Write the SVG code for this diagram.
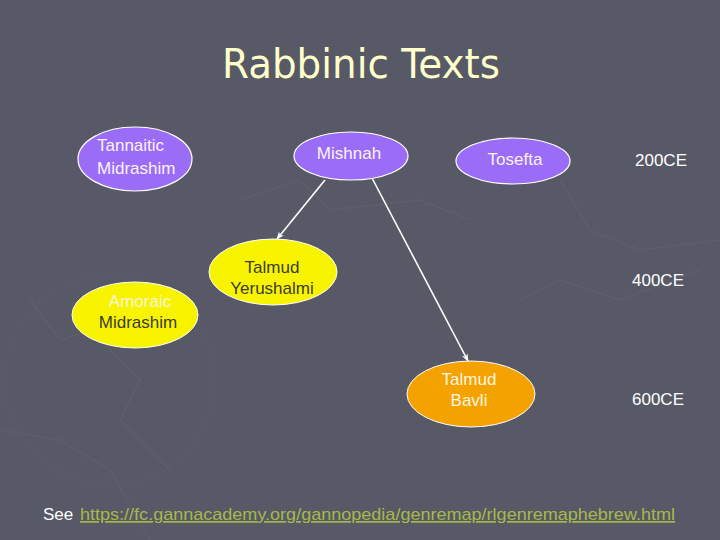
<svg xmlns="http://www.w3.org/2000/svg" width="720" height="540" viewBox="0 0 720 540">
<defs>
<style>
.t{font-family:"Liberation Sans",Arial,sans-serif;font-size:17px}
.purple{fill:#9b6cf6;stroke:#ffffff;stroke-width:1.2}
.yellow{fill:#f8f400;stroke:#ffffff;stroke-width:1}
.orange{fill:#f4a200;stroke:#ffffff;stroke-width:1}
.wt{fill:#fbf2fb}
.dk{fill:#3c3c30}
.yr{fill:#ffffff}
.conn{stroke:#ffffff;stroke-width:1.6;fill:none;marker-end:url(#ah)}
.deco{stroke:#5d5f6b;stroke-width:1.5;fill:none}
</style>
<marker id="ah" viewBox="0 0 10 10" refX="9" refY="5" markerWidth="8" markerHeight="8" orient="auto" markerUnits="userSpaceOnUse">
<path d="M0,1 L10,5 L0,9 L3,5 Z" fill="#ffffff"/>
</marker>
</defs>
<rect width="720" height="540" fill="#575966"/>
<g id="background-decoration">
<circle cx="110" cy="380" r="105" class="deco" stroke-dasharray="1.5 2.5" stroke-width="6"/>
<path class="deco" d="M30,300 L60,340 L90,330 L140,380 L120,420 L170,470"/>
<path class="deco" d="M240,200 L300,180 L330,210 L420,200 L470,220"/>
<path class="deco" d="M520,300 L560,280 L620,300 L700,270"/>
<path class="deco" d="M0,430 L60,440 L110,470 L150,540"/>
<path class="deco" d="M560,180 L590,230 L640,250 L720,240"/>
</g>
<g id="title"><text x="361" y="78" text-anchor="middle" font-family="'DejaVu Sans',Tahoma,sans-serif" font-size="40" fill="#ffffcc" textLength="278" lengthAdjust="spacingAndGlyphs">Rabbinic Texts</text></g>
<g id="tannaitic">
<ellipse class="purple" cx="135" cy="159" rx="57" ry="32"/>
<text class="t wt" x="97" y="151">Tannaitic</text>
<text class="t wt" x="97" y="174">Midrashim</text>
</g>
<g id="mishnah">
<ellipse class="purple" cx="351" cy="156" rx="57" ry="24"/>
<text class="t wt" x="349" y="159" text-anchor="middle">Mishnah</text>
</g>
<g id="tosefta">
<ellipse class="purple" cx="513" cy="161" rx="57" ry="23"/>
<text class="t wt" x="515" y="165" text-anchor="middle">Tosefta</text>
</g>
<g id="yerushalmi">
<ellipse class="yellow" cx="273" cy="272" rx="64" ry="33"/>
<text class="t dk" x="272" y="273" text-anchor="middle">Talmud</text>
<text class="t dk" x="272" y="294" text-anchor="middle">Yerushalmi</text>
</g>
<g id="amoraic">
<ellipse class="yellow" cx="135" cy="315" rx="63" ry="33"/>
<text class="t" x="140" y="307" text-anchor="middle" fill="#f6f4d8">Amoraic</text>
<text class="t dk" x="138" y="328" text-anchor="middle">Midrashim</text>
</g>
<g id="bavli">
<ellipse class="orange" cx="471" cy="394" rx="64" ry="33"/>
<text class="t" x="469" y="385" text-anchor="middle" fill="#fff6e0">Talmud</text>
<text class="t" x="469" y="406" text-anchor="middle" fill="#fff6e0">Bavli</text>
</g>
<g id="connectors">
<line class="conn" x1="325" y1="180" x2="277" y2="239"/>
<line class="conn" x1="372" y1="178" x2="468" y2="361"/>
</g>
<g id="years">
<text class="t yr" x="661" y="166" text-anchor="middle">200CE</text>
<text class="t yr" x="658" y="286" text-anchor="middle">400CE</text>
<text class="t yr" x="658" y="405" text-anchor="middle">600CE</text>
</g>
<g id="footer">
<text class="t" x="43" y="520" font-size="17" fill="#ffffff">See</text>
<text class="t" x="80" y="520" font-size="17" fill="#a7b84a" text-decoration="underline" textLength="595" lengthAdjust="spacingAndGlyphs">https://fc.gannacademy.org/gannopedia/genremap/rlgenremaphebrew.html</text>
</g>
</svg>
